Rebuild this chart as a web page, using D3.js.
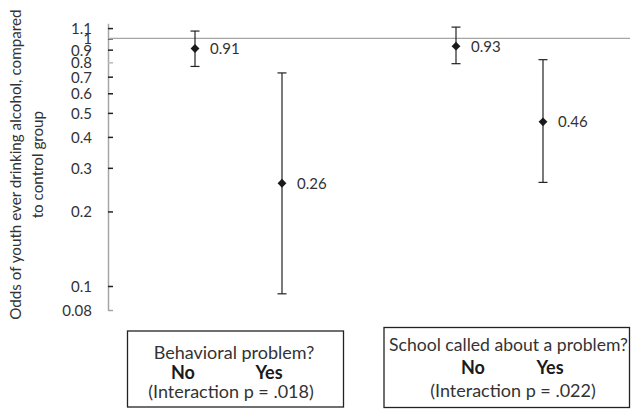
<!DOCTYPE html>
<html>
<head>
<meta charset="utf-8">
<script src="https://cdn.jsdelivr.net/npm/d3@7"></script>
<style>
  html, body { margin: 0; padding: 0; background: #fff; }
  svg { display: block; font-family: Lato, "Open Sans", sans-serif; }
</style>
</head>
<body>
<svg id="chart" width="638" height="410"></svg>
<script>
// ---- data ----
const categories = ["Behavioral problem: No", "Behavioral problem: Yes", "School called: No", "School called: Yes"];
const xValues = [1, 2, 4, 5];
const odds = [0.91, 0.26, 0.93, 0.46];
const lower = [0.77, 0.093, 0.79, 0.262];
const upper = [1.07, 0.725, 1.11, 0.82];
const oddsLabels = ["0.91", "0.26", "0.93", "0.46"];
const tickValues = [0.08, 0.1, 0.2, 0.3, 0.4, 0.5, 0.6, 0.7, 0.8, 0.9, 1, 1.1];
const tickLabels = ["0.08", "0.1", "0.2", "0.3", "0.4", "0.5", "0.6", "0.7", "0.8", "0.9", "1", "1.1"];
const yTitle = ["Odds of youth ever drinking alcohol, compared", "to control group"];
const group1 = { title: "Behavioral problem?", no: "No", yes: "Yes", p: "(Interaction p = .018)" };
const group2 = { title: "School called about a problem?", no: "No", yes: "Yes", p: "(Interaction p = .022)" };

// ---- scales ----
const svg = d3.select("#chart");
const x = d3.scaleLinear().domain([0, 6]).range([108, 630]);
const y = d3.scaleLog().domain([0.08, 1.15]).range([310, 23.3]);
const textColor = "#333";

// ---- y axis ----
const axis = d3.axisRight(y)
  .tickValues(tickValues)
  .tickFormat((d, i) => tickLabels[i])
  .tickSize(5)
  .tickSizeOuter(0);
const ag = svg.append("g").attr("transform", `translate(${x(0)},0)`).call(axis);
ag.select(".domain").attr("stroke", "#a6a6a6").attr("stroke-width", 1.5);
ag.selectAll(".tick line").attr("stroke", (d) => d === 0.8 ? "#bbb" : "#222").attr("stroke-width", 1.5);
ag.selectAll(".tick").filter(d => d === 0.08).select("line").attr("stroke", "#a6a6a6");
ag.selectAll(".tick text")
  .attr("x", -16)
  .attr("dy", "0.36em")
  .attr("text-anchor", "end")
  .attr("fill", textColor)
  .style("font-size", "15px")
  .style("font-family", "Lato, sans-serif");

// reference line at 1
svg.append("line")
  .attr("x1", x(0)).attr("x2", x(6))
  .attr("y1", y(1)).attr("y2", y(1))
  .attr("stroke", "#a6a6a6").attr("stroke-width", 1.3);

// y title
const yt = svg.append("text")
  .attr("transform", `translate(0,${(y(0.08) + y(1.15)) / 2 - 2}) rotate(-90)`)
  .attr("text-anchor", "middle")
  .attr("fill", textColor)
  .style("font-size", "15.2px");
yt.append("tspan").attr("x", 0).attr("y", 21).text(yTitle[0]);
yt.append("tspan").attr("x", 0).attr("y", 43).text(yTitle[1]);

// ---- error bars + points ----
const idx = d3.range(categories.length);
const g = svg.append("g");
const capW = 4.5;
idx.forEach(i => {
  const cx = x(xValues[i]);
  g.append("line").attr("x1", cx).attr("x2", cx).attr("y1", y(upper[i])).attr("y2", y(lower[i]))
    .attr("stroke", "#222").attr("stroke-width", 1.2);
  g.append("line").attr("x1", cx - capW).attr("x2", cx + capW).attr("y1", y(upper[i])).attr("y2", y(upper[i]))
    .attr("stroke", "#222").attr("stroke-width", 1.2);
  g.append("line").attr("x1", cx - capW).attr("x2", cx + capW).attr("y1", y(lower[i])).attr("y2", y(lower[i]))
    .attr("stroke", "#222").attr("stroke-width", 1.2);
});
g.selectAll("path.pt").data(idx).join("path")
  .attr("class", "pt")
  .attr("d", d3.symbol(d3.symbolDiamond2, 50))
  .attr("transform", i => `translate(${x(xValues[i])},${y(odds[i])})`)
  .attr("fill", "#1a1a1a");
g.selectAll("text.lbl").data(idx).join("text")
  .attr("class", "lbl")
  .attr("x", i => x(xValues[i]) + 15)
  .attr("y", i => y(odds[i]))
  .attr("dy", "0.36em")
  .attr("fill", textColor)
  .style("font-size", "15px")
  .text(i => oddsLabels[i]);

// ---- group boxes ----
function box(grp, bx, by, bw, bh, lines) {
  const b = svg.append("g");
  b.append("rect").attr("x", bx).attr("y", by).attr("width", bw).attr("height", bh)
    .attr("fill", "#fff").attr("stroke", "#222").attr("stroke-width", 1.3);
  b.append("text").attr("x", lines.cTitle).attr("y", lines.y1).attr("text-anchor", "middle")
    .attr("fill", textColor).style("font-size", lines.fs + "px").text(grp.title);
  b.append("text").attr("x", lines.cNo).attr("y", lines.y2).attr("text-anchor", "middle")
    .attr("fill", "#1a1a1a").style("font-size", "18px").style("font-weight", "bold").text(grp.no);
  b.append("text").attr("x", lines.cYes).attr("y", lines.y2).attr("text-anchor", "middle")
    .attr("fill", "#1a1a1a").style("font-size", "18px").style("font-weight", "bold").text(grp.yes);
  b.append("text").attr("x", lines.cP).attr("y", lines.y3).attr("text-anchor", "middle")
    .attr("fill", textColor).style("font-size", "18px").text(grp.p);
}
box(group1, 127.5, 331, 216, 76, { fs: 18, cTitle: 234, cNo: 183, cYes: 269, cP: 231, y1: 359, y2: 379, y3: 398 });
box(group2, 384, 327.5, 245.5, 80, { fs: 17.6, cTitle: 508.5, cNo: 473, cYes: 550, cP: 513, y1: 351, y2: 374, y3: 397 });
</script>
</body>
</html>
